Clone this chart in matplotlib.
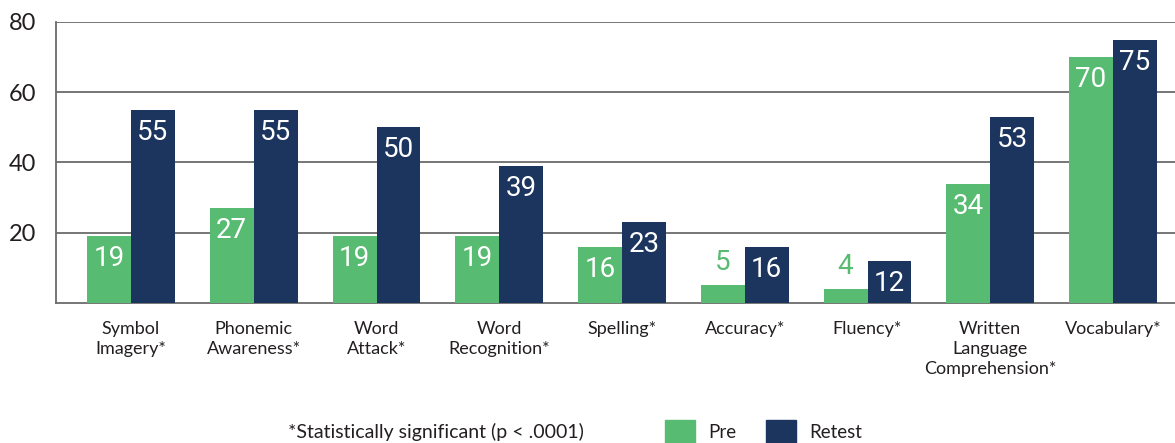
import matplotlib.pyplot as plt
import numpy as np
from matplotlib.patches import Patch

categories = [
    "Symbol\nImagery*", "Phonemic\nAwareness*", "Word\nAttack*", "Word\nRecognition*",
    "Spelling*", "Accuracy*", "Fluency*", "Written\nLanguage\nComprehension*", "Vocabulary*",
]
pre_values = [19, 27, 19, 19, 16, 5, 4, 34, 70]
retest_values = [55, 55, 50, 39, 23, 16, 12, 53, 75]
series_names = ["Pre", "Retest"]
y_ticks = [20, 40, 60, 80]

GREEN = "#58bb72"
NAVY = "#1c355e"
GRID = "#6b6b6b"
TEXT = "#231f20"

plt.rcParams["font.family"] = ["Lato", "DejaVu Sans"]
num_font = ["Roboto", "DejaVu Sans"]

fig = plt.figure(figsize=(11.75, 4.43), dpi=100)
ax = fig.add_axes([56 / 1175, 140 / 443, 1 - 56 / 1175, 281 / 443])

x = np.arange(len(categories))
w = 0.358
bars_pre = ax.bar(x - w / 2, pre_values, w, color=GREEN, zorder=3)
bars_ret = ax.bar(x + w / 2, retest_values, w, color=NAVY, zorder=3)

ax.set_ylim(0, 80)
ax.set_xlim(-0.611, len(categories) - 1 + 0.505)
ax.set_yticks(y_ticks)
ax.yaxis.grid(True, color=GRID, linewidth=1.3, zorder=0)
ax.set_axisbelow(True)
ax.tick_params(axis="y", length=0, pad=14, labelsize=17, labelcolor=TEXT)
ax.set_xticks(x)
ax.set_xticklabels(categories, fontsize=13, color=TEXT, linespacing=1.3)
ax.tick_params(axis="x", length=0, pad=13)
for s in ["top", "right"]:
    ax.spines[s].set_visible(False)
for s in ["left", "bottom"]:
    ax.spines[s].set_color(GRID)
    ax.spines[s].set_linewidth(1.3)

# value labels: inside the bar when it is tall enough, else above in bar colour
for bars, vals, col in [(bars_pre, pre_values, GREEN), (bars_ret, retest_values, NAVY)]:
    for b, v in zip(bars, vals):
        cx = b.get_x() + b.get_width() / 2
        if v >= 10:
            ax.annotate(str(v), (cx, v), xytext=(0, -9), textcoords="offset pixels",
                        ha="center", va="top", color="white", fontsize=20,
                        family=num_font, zorder=4)
        else:
            ax.annotate(str(v), (cx, v), xytext=(0, 9), textcoords="offset pixels",
                        ha="center", va="bottom", color=col, fontsize=20,
                        family=num_font, zorder=4)

fig.text(436 / 1175, 11 / 443, "*Statistically significant (p < .0001)",
         ha="center", va="center", fontsize=14, color=TEXT)

handles = [Patch(color=GREEN), Patch(color=NAVY)]
fig.legend(handles, series_names, ncol=2, frameon=False, loc="lower left",
           bbox_to_anchor=(648 / 1175, -0.04), fontsize=13.5, handlelength=1.6,
           handleheight=1.6, columnspacing=1.6, handletextpad=0.7, labelcolor=TEXT)

fig.savefig("out.png", dpi=100)
